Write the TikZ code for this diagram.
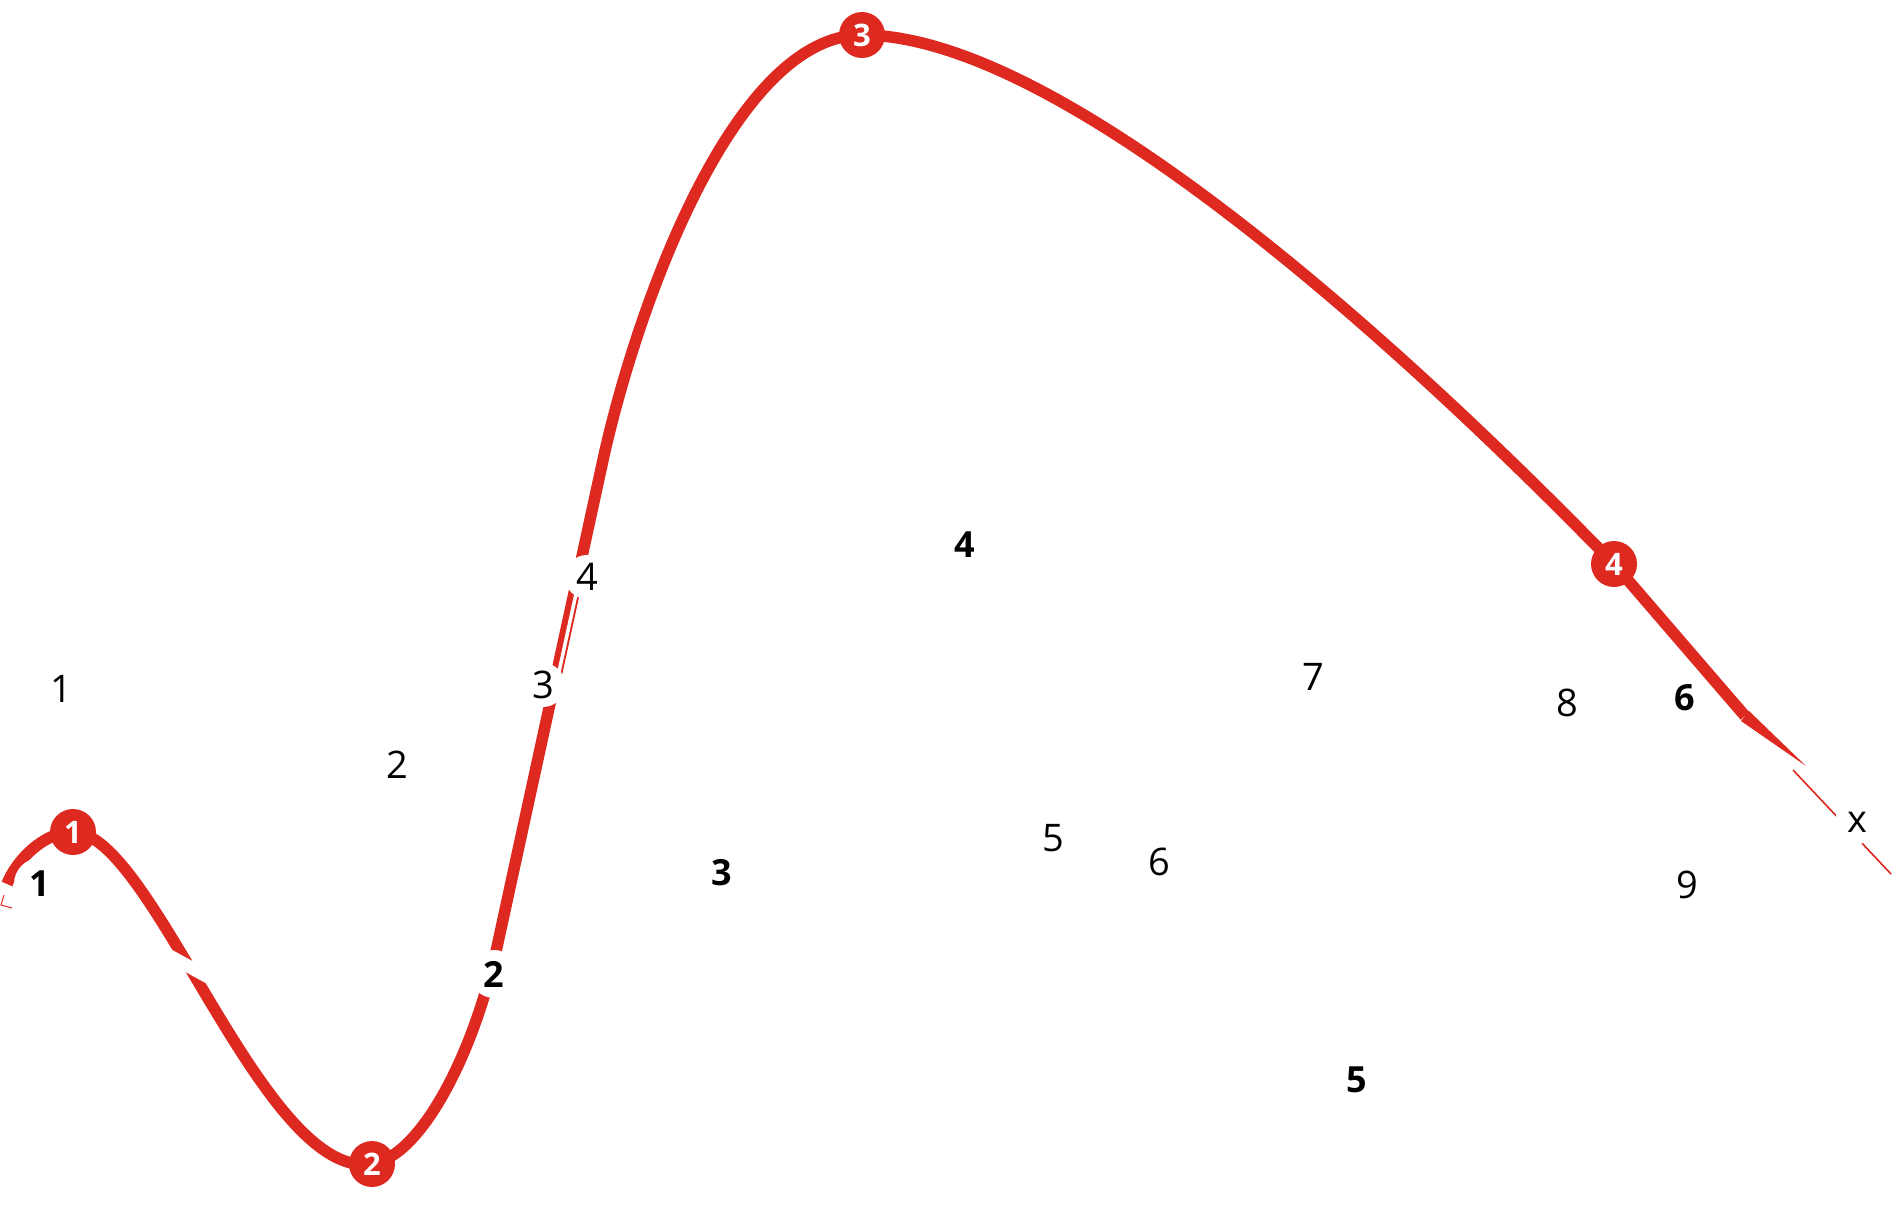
\documentclass[tikz,border=0pt]{standalone}
\usepackage{fontspec}
\setmainfont{Open Sans}
\definecolor{curvered}{RGB}{222,41,33}
\begin{document}
\begin{tikzpicture}[x=1pt,y=-1pt,
  curve/.style={draw=curvered, line width=11.5pt},
  thinline/.style={draw=curvered, line width=1.6pt},
  lab/.style={circle, fill=white, inner sep=0pt, minimum size=44pt, font=\fontsize{38}{40}\selectfont},
  blab/.style={circle, fill=white, inner sep=0pt, minimum size=48pt, font=\fontsize{36}{40}\selectfont\bfseries},
  badge/.style={circle, fill=curvered, text=white, inner sep=0pt, minimum size=46pt, font=\fontsize{31}{32}\selectfont\bfseries}]
\useasboundingbox (0,0) rectangle (1904,1208);
% anchor points of the curve
\coordinate (s0) at (7,884);
\coordinate (p1) at (73,832);
\coordinate (p2) at (372,1164);
\coordinate (q1) at (497,947);
\coordinate (q2) at (603,460);
\coordinate (p3) at (862,35);
\coordinate (p4) at (1614,564);
\coordinate (t0) at (1745,716);
\coordinate (t1) at (1749,711);
\coordinate (t2) at (1741,721);
\coordinate (tip) at (1806,766);
\coordinate (u0) at (1793,770);
\coordinate (u1) at (1891,874);
% main curve
\draw[curve] (s0) .. controls (16,861) and (43,832) .. (p1)
  .. controls (153,832) and (263,1181) .. (p2)
  .. controls (421,1156) and (473.6,1054.5) .. (q1)
  -- (q2)
  .. controls (635,313.5) and (732,35) .. (p3)
  .. controls (1062,35) and (1404,348) .. (p4)
  -- (t0);
% tapered tail
\fill[curvered] (t1) -- (tip) -- (t2) -- cycle;
\draw[thinline] (u0) -- (u1);
% small marks at the start
\draw[curvered, line width=1pt] (4,895) -- (1,905) -- (12,908);
% white cuts in the curve
\draw[white, line width=13pt] (166,954) -- (210,978);
\draw[white, line width=3.5pt] (557.2,680) -- (577.5,587);
% labels
\node[lab] (n1) at (61,689) {1};
\node[lab] (n2) at (397,765) {2};
\node[lab] (n3) at (543,685) {3};
\node[lab] (n4) at (587,577) {4};
\node[lab] (n5) at (1053,838) {5};
\node[lab] (n6) at (1159,862) {6};
\node[lab] (n7) at (1313,677) {7};
\node[lab] (n8) at (1567,703) {8};
\node[lab] (n9) at (1687,885) {9};
\node[lab] (nx) at (1857,822) {x};
\node[blab, minimum size=52pt] (b1) at (40,884) {1};
\node[blab] (b2) at (494,974) {2};
\node[blab] (b3) at (722,873) {3};
\node[blab] (b4) at (965,545) {4};
\node[blab] (b5) at (1357,1080) {5};
\node[blab] (b6) at (1685,698) {6};
% badges on the curve
\node[badge] (c1) at (p1) {1};
\node[badge] (c2) at (p2) {2};
\node[badge] (c3) at (p3) {3};
\node[badge] (c4) at (p4) {4};
\end{tikzpicture}
\end{document}
